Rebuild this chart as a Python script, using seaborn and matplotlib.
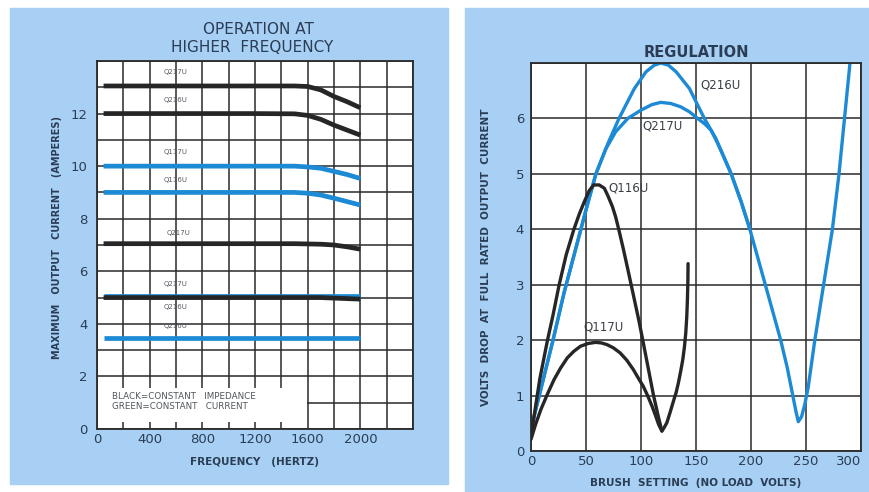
import numpy as np
import pandas as pd
import seaborn as sns
import matplotlib.pyplot as plt
from matplotlib.patches import Rectangle

# ---- left chart: operation at higher frequency ----
freq_long = [50, 400, 800, 1200, 1500, 1600, 1700, 1800, 1900, 2000]
q217u_blk_top = [13.05, 13.05, 13.05, 13.05, 13.05, 13.03, 12.9, 12.65, 12.45, 12.22]
q216u_blk_top = [12.0, 12.0, 12.0, 12.0, 11.99, 11.93, 11.78, 11.56, 11.37, 11.18]
q117u_blu = [10.0, 10.0, 10.0, 10.0, 10.0, 9.97, 9.92, 9.8, 9.68, 9.53]
q116u_blu = [9.0, 9.0, 9.0, 9.0, 9.0, 8.97, 8.9, 8.78, 8.65, 8.52]
q217u_blk_mid = [7.05, 7.05, 7.05, 7.05, 7.05, 7.04, 7.03, 7.0, 6.93, 6.84]
q217u_blk_low = [5.0, 5.0, 5.0, 5.0, 5.0, 5.0, 5.0, 4.98, 4.96, 4.94]
q216u_blu_mid = [5.06, 5.06, 5.06, 5.06, 5.06, 5.06, 5.06, 5.06, 5.06, 5.06]
q216u_blu_low = [3.46, 3.46, 3.46, 3.46, 3.46, 3.46, 3.46, 3.46, 3.46, 3.46]

left_labels = ["Q217U", "Q216U", "Q117U", "Q116U", "Q217U", "Q217U", "Q216U", "Q216U"]
left_label_x = [593, 593, 600, 600, 616, 600, 600, 593]
left_label_y = [13.57, 12.5, 10.53, 9.47, 7.45, 5.51, 4.64, 3.92]

# ---- right chart: regulation ----
q216u_x = [0, 10, 20, 30, 40, 50, 59, 70, 80, 94, 104.5, 112, 118, 125, 132, 144, 157.6, 168, 182, 191,
           199, 206, 213, 220, 227, 233, 238, 241, 243, 246, 249, 252, 258, 266, 274, 280, 285, 290]
q216u_y = [0.4, 1.2, 2.0, 2.85, 3.6, 4.35, 5.0, 5.55, 6.0, 6.54, 6.84, 6.96, 7.0, 6.96, 6.84, 6.54, 6.0,
           5.64, 5.0, 4.5, 4.0, 3.5, 3.0, 2.5, 2.0, 1.5, 1.0, 0.7, 0.53, 0.62, 0.85, 1.15, 2.0, 3.0, 4.0,
           5.0, 6.0, 7.0]
q217u_x = [0, 10, 20, 30, 40, 50, 59, 68, 77, 88, 100, 110, 118, 127, 136, 144, 151.5, 158, 163.6,
           168, 172.7, 182, 191, 199]
q217u_y = [0.4, 1.2, 2.0, 2.85, 3.6, 4.35, 5.0, 5.45, 5.76, 6.0, 6.15, 6.25, 6.29, 6.27, 6.21, 6.12,
           6.0, 5.9, 5.79, 5.62, 5.42, 5.0, 4.5, 4.0]
q116u_x = [0, 8, 15, 20, 25.6, 32, 39, 44, 48.5, 53, 57, 62, 66.7, 70, 74, 77, 80, 84, 88, 93, 98,
           102.4, 107, 111.4, 116, 119]
q116u_y = [0.27, 1.3, 2.0, 2.45, 3.0, 3.54, 4.0, 4.28, 4.5, 4.7, 4.8, 4.8, 4.74, 4.6, 4.41, 4.22, 3.98,
           3.64, 3.28, 2.82, 2.36, 1.92, 1.45, 1.0, 0.6, 0.36]
q117u_x = [0, 4, 9, 15, 21, 27, 33, 39, 45, 52, 58.7, 64, 69, 75, 81, 87, 93, 98, 102, 106, 110, 113,
           116, 119, 121, 123.5, 126.5, 129.5, 132, 134, 136, 138, 139.5, 140.7, 141.6, 142.2, 142.6, 142.8]
q117u_y = [0.21, 0.47, 0.75, 1.03, 1.29, 1.5, 1.68, 1.8, 1.89, 1.94, 1.96, 1.95, 1.92, 1.86, 1.77, 1.64,
           1.47, 1.3, 1.17, 1.0, 0.81, 0.65, 0.48, 0.36, 0.42, 0.51, 0.7, 0.9, 1.06, 1.23, 1.43, 1.65, 1.88,
           2.13, 2.42, 2.73, 3.05, 3.38]

BLUE = "#1d8ad5"
BLACK = "#262626"
BG = "#a7d0f4"
TXT = "#2b3d55"
GRID = "#2a2a2a"

sns.set_theme(style="white")
plt.rcParams['font.family'] = ['DejaVu Sans']

fig = plt.figure(figsize=(8.7, 4.92), dpi=100)
fig.patch.set_facecolor("white")
fig.patches.append(Rectangle((10 / 870, 1 - 484 / 492), 438 / 870, 476 / 492,
                             transform=fig.transFigure, color=BG, zorder=-5))
fig.patches.append(Rectangle((465 / 870, 0), 405 / 870, 484 / 492,
                             transform=fig.transFigure, color=BG, zorder=-5))

ax1 = fig.add_axes([97 / 870, 63 / 492, 316 / 870, 368 / 492])
ax2 = fig.add_axes([531 / 870, 41 / 492, 330 / 870, 388 / 492])

# grids
for ax, xmax, xstep, ymax in [(ax1, 2400, 200, 14), (ax2, 300, 50, 7)]:
    ax.set_facecolor("white")
    ax.set_xlim(0, xmax)
    ax.set_ylim(0, ymax)
    ax.set_xticks(np.arange(0, xmax + 1, xstep))
    ax.set_yticks(np.arange(0, ymax + 1, 1))
    ax.grid(True, color=GRID, lw=1.1)
    ax.set_axisbelow(True)
    for s in ax.spines.values():
        s.set_color(GRID)
        s.set_linewidth(1.3)
    ax.tick_params(length=0, colors=TXT)

# left curves
left_series = [
    (q216u_blu_mid, BLUE), (q217u_blk_top, BLACK), (q216u_blk_top, BLACK),
    (q117u_blu, BLUE), (q116u_blu, BLUE), (q217u_blk_mid, BLACK),
    (q217u_blk_low, BLACK), (q216u_blu_low, BLUE),
]
for vals, col in left_series:
    df = pd.DataFrame({"freq": freq_long, "amps": vals})
    sns.lineplot(data=df, x="freq", y="amps", color=col, lw=3.4, ax=ax1,
                 sort=False, estimator=None, solid_capstyle="butt")

for lab, x, y in zip(left_labels, left_label_x, left_label_y):
    ax1.text(x, y, lab, fontsize=5, color="#555a60", ha="center", va="center")

ax1.add_patch(Rectangle((6, 0.25), 1588, 1.3, facecolor="white", edgecolor="none", zorder=1.5))
ax1.text(115, 1.05, "BLACK=CONSTANT   IMPEDANCE\nGREEN=CONSTANT   CURRENT",
         fontsize=6.3, color="#50565e", va="center", ha="left", linespacing=1.2, zorder=2)

ax1.set_xticklabels([str(v) if v <= 2000 and v % 400 == 0 else "" for v in range(0, 2401, 200)],
                    fontsize=9.5, color=TXT)
ax1.set_yticklabels([str(v) if v % 2 == 0 and v <= 12 else "" for v in range(0, 15)],
                    fontsize=9.5, color=TXT)
ax1.tick_params(axis="x", pad=3)
ax1.tick_params(axis="y", pad=7)
ax1.set_xlabel("FREQUENCY   (HERTZ)", fontsize=7.5, color=TXT, fontweight="bold")
ax1.set_ylabel("MAXIMUM   OUTPUT   CURRENT   (AMPERES)", fontsize=7, color=TXT, fontweight="bold")
ax1.xaxis.set_label_coords(0.5, -0.075)
ax1.yaxis.set_label_coords(-0.11, 0.52)

fig.text(258 / 870, 1 - 30 / 492, "OPERATION AT", fontsize=11, color=TXT, ha="center", va="center")
fig.text(252 / 870, 1 - 47 / 492, "HIGHER  FREQUENCY", fontsize=11, color=TXT, ha="center", va="center")

# right curves
right_series = [
    (q216u_x, q216u_y, BLUE), (q217u_x, q217u_y, BLUE),
    (q116u_x, q116u_y, BLACK), (q117u_x, q117u_y, BLACK),
]
for xs, ys, col in right_series:
    df = pd.DataFrame({"volts": xs, "drop": ys})
    sns.lineplot(data=df, x="volts", y="drop", color=col, lw=2.4, ax=ax2,
                 sort=False, estimator=None)

ax2.text(154, 6.6, "Q216U", fontsize=8.5, color="#3a3f46", ha="left", va="center")
ax2.text(101, 5.86, "Q217U", fontsize=8.5, color="#3a3f46", ha="left", va="center")
ax2.text(70, 4.75, "Q116U", fontsize=8.5, color="#3a3f46", ha="left", va="center")
ax2.text(48, 2.24, "Q117U", fontsize=8.5, color="#3a3f46", ha="left", va="center")

ax2.set_xticklabels([str(v) for v in range(0, 301, 50)], fontsize=9.5, color=TXT)
ax2.set_yticklabels([str(v) if v <= 6 else "" for v in range(0, 8)], fontsize=9.5, color=TXT)
ax2.get_xticklabels()[-1].set_horizontalalignment("right")
ax2.tick_params(axis="x", pad=3)
ax2.tick_params(axis="y", pad=5)
ax2.set_xlabel("BRUSH  SETTING  (NO LOAD  VOLTS)", fontsize=7.5, color=TXT, fontweight="bold")
ax2.set_ylabel("VOLTS  DROP  AT  FULL  RATED  OUTPUT  CURRENT", fontsize=7.5, color=TXT,
               fontweight="bold")
ax2.xaxis.set_label_coords(0.5, -0.07)
ax2.yaxis.set_label_coords(-0.12, 0.5)
ax2.set_title("REGULATION", fontsize=10.5, color=TXT, fontweight="bold", pad=4)

fig.savefig("out.png", dpi=100, facecolor=fig.get_facecolor())
